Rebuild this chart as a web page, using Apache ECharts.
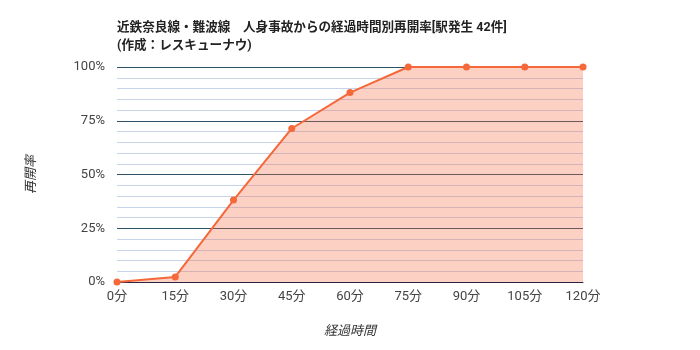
<!DOCTYPE html>
<html><head><meta charset="utf-8">
<script src="https://cdn.jsdelivr.net/npm/echarts@6/dist/echarts.min.js"></script>
<style>html,body{margin:0;padding:0;background:#fff}#c{width:700px;height:350px}</style>
</head><body><div id="c"></div>
<script>
const minutes = [0, 15, 30, 45, 60, 75, 90, 105, 120];
const rates = [0, 2.38, 38.1, 71.4, 88.1, 100, 100, 100, 100];
const titleLines = ['近鉄奈良線・難波線　人身事故からの経過時間別再開率[駅発生 42件]', '(作成：レスキューナウ)'];
const xName = '経過時間';
const yName = '再開率';
const FONT = 'Roboto, "Noto Sans CJK JP", sans-serif';
const chart = echarts.init(document.getElementById('c'));
chart.setOption({
  animation: false,
  textStyle: {fontFamily: FONT},
  title: {
    text: titleLines.join('\n'), left: 112, top: 14,
    textStyle: {fontSize: 12.6, fontWeight: 'bold', color: '#222', lineHeight: 18, fontFamily: FONT}
  },
  grid: {left: 117, right: 117, top: 67, bottom: 68},
  xAxis: {
    type: 'value', min: 0, max: 120, interval: 15,
    name: xName, nameLocation: 'middle', nameGap: 43,
    nameTextStyle: {fontStyle: 'italic', color: '#333', fontSize: 13},
    axisLine: {show: true, lineStyle: {color: '#2b2440', width: 1}},
    axisTick: {show: false},
    splitLine: {show: false},
    axisLabel: {formatter: '{value}分', color: '#444', fontSize: 13, margin: 8}
  },
  yAxis: {
    type: 'value', min: 0, max: 100, interval: 25,
    name: yName, nameLocation: 'middle', nameGap: 79, nameRotate: 90,
    nameTextStyle: {fontStyle: 'italic', color: '#333', fontSize: 13},
    axisLine: {show: false}, axisTick: {show: false},
    axisLabel: {formatter: '{value}%', color: '#444', fontSize: 13, margin: 12},
    splitLine: {show: true, lineStyle: {color: '#2f5469', width: 1}},
    minorTick: {show: false, splitNumber: 5},
    minorSplitLine: {show: true, lineStyle: {color: '#c5d4ea', width: 1}}
  },
  series: [{
    type: 'line',
    data: minutes.map((m, i) => [m, rates[i]]),
    symbol: 'circle', symbolSize: 7,
    itemStyle: {color: '#f4683a'},
    lineStyle: {color: '#f4683a', width: 2},
    areaStyle: {color: '#f4683a', opacity: 0.3},
    z: 3
  }]
});
</script></body></html>
